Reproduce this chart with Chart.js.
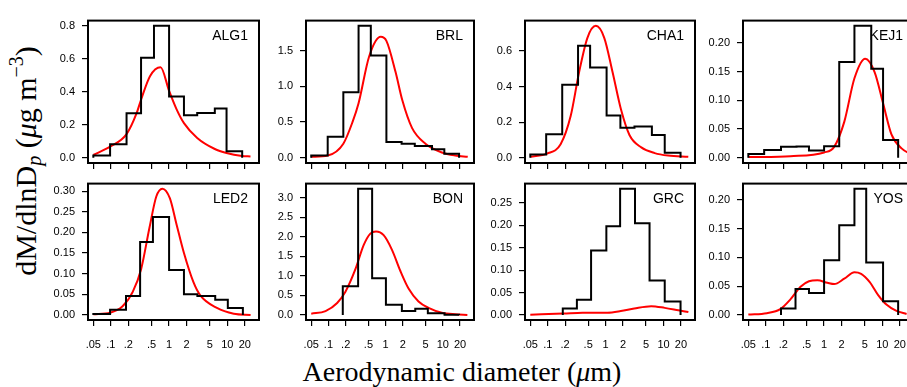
<!DOCTYPE html>
<html>
<head>
<meta charset="utf-8">
<script src="https://cdn.jsdelivr.net/npm/chart.js@4.4.1/dist/chart.umd.min.js"></script>
<style>
html,body{margin:0;padding:0;background:#fff;}
#wrap{position:relative;width:907px;height:387px;overflow:hidden;background:#fff;}
canvas.pc{position:absolute;}
#xtitle{position:absolute;left:462px;top:372px;transform:translate(-50%,-50%);font-family:"Liberation Serif",serif;font-size:28px;line-height:1;white-space:nowrap;color:#000;}
#ytitle{position:absolute;left:25px;top:161px;transform:translate(-50%,-50%) rotate(-90deg);font-family:"Liberation Serif",serif;font-size:30px;line-height:1;white-space:nowrap;color:#000;}
#ytitle sub{font-size:20px;vertical-align:-5px;}
#ytitle sup{font-size:20px;vertical-align:13px;}
</style>
</head>
<body>
<div id="wrap">
<div id="xtitle">Aerodynamic diameter (<i>μ</i>m)</div>
<div id="ytitle">dM/dlnD<sub><i>p</i></sub> (<i>μ</i>g m<sup>−3</sup>)</div>
</div>
<script>
// ---------------- DATA ----------------
const panelNames = ["ALG1","BRL","CHA1","KEJ1","LED2","BON","GRC","YOS"];
const xTickValues = [0.05,0.1,0.2,0.5,1,2,5,10,20];
const xTickLabels = [".05",".1",".2",".5","1","2","5","10","20"];

// ALG1
const alg1Edges = [0.05,0.097,0.186,0.33,0.55,1.0,1.8,3.04,6.1,9.7,18];
const alg1Mass  = [0.013,0.082,0.27,0.606,0.8,0.371,0.257,0.272,0.299,0.04];
const alg1FitD  = [0.05,0.097,0.186,0.277,0.33,0.47,0.714,1.0,1.34,1.8,3.04,6.1,9.7,18,25];
const alg1FitM  = [0.017,0.067,0.143,0.27,0.352,0.495,0.549,0.406,0.295,0.21,0.12,0.053,0.029,0.011,0.0076];
const alg1YTicks = ["0.0","0.2","0.4","0.6","0.8"];

// BRL
const brlEdges = [0.05,0.097,0.182,0.336,0.55,1.03,1.9,3.23,6.46,10.6,19.2];
const brlMass  = [0.03,0.293,0.918,1.85,1.434,0.219,0.197,0.166,0.118,0.057];
const brlFitD  = [0.05,0.0973,0.182,0.264,0.336,0.514,0.82,1.03,1.49,1.95,2.9,4.95,9.63,16.4,27.2];
const brlFitM  = [0.013,0.031,0.197,0.503,0.765,1.421,1.697,1.64,1.202,0.809,0.415,0.197,0.074,0.031,0.013];
const brlYTicks = ["0.0","0.5","1.0","1.5"];

// CHA1
const cha1Edges = [0.05,0.094,0.178,0.334,0.54,1.04,1.8,3.15,6.3,10.5,19.7];
const cha1Mass  = [0.018,0.132,0.41,0.63,0.507,0.238,0.169,0.176,0.128,0.028];
const cha1FitD  = [0.05,0.0976,0.167,0.249,0.348,0.485,0.678,0.947,1.32,1.85,2.58,4.13,7.04,12.0,26.8];
const cha1FitM  = [0.005,0.023,0.076,0.234,0.48,0.674,0.741,0.674,0.48,0.269,0.128,0.058,0.026,0.012,0.005];
const cha1YTicks = ["0.0","0.2","0.4","0.6"];

// KEJ1
const kej1Edges = [0.05,0.0935,0.182,0.336,0.55,1.0,1.82,3.32,6.46,10.3,18.7];
const kej1Mass  = [0.0065,0.0136,0.019,0.0195,0.0125,0.02,0.167,0.23,0.155,0.031];
const kej1FitD  = [0.05,0.264,1.0,1.49,2.22,3.32,5.08,7.37,10.3,14.35,21.4,31.9];
const kej1FitM  = [0.0011,0.0027,0.0092,0.019,0.0625,0.1386,0.1728,0.1495,0.0951,0.0408,0.0163,0.0054];
const kej1YTicks = ["0.00","0.05","0.10","0.15","0.20"];

// LED2
const led2Edges = [0.05,0.097,0.182,0.318,0.528,1.0,1.8,3.06,6.2,10.2,18.5];
const led2Mass  = [0.002,0.0125,0.046,0.177,0.2375,0.109,0.05,0.046,0.037,0.017];
const led2FitD  = [0.05,0.0973,0.159,0.2375,0.331,0.462,0.603,0.767,1.03,1.34,1.8,2.61,3.41,6.63,12.9,25.1];
const led2FitM  = [0.0016,0.0055,0.021,0.056,0.111,0.2125,0.287,0.306,0.283,0.22,0.15,0.08,0.048,0.017,0.003,0.0];
const led2YTicks = ["0.00","0.05","0.10","0.15","0.20","0.25","0.30"];

// BON
const bonEdges = [0.178,0.33,0.58,1.01,1.92,3.29,5.46,10.7,19.2];
const bonMass  = [0.734,3.23,0.94,0.264,0.099,0.157,0.041,0.005];
const bonFitD  = [0.05,0.0889,0.142,0.198,0.296,0.414,0.54,0.678,0.922,1.29,1.8,2.51,3.75,5.61,9.57,16.4,26.8];
const bonFitM  = [0.033,0.099,0.305,0.594,1.17,1.79,2.08,2.135,2.04,1.665,1.13,0.676,0.346,0.181,0.058,0.016,0.0];
const bonYTicks = ["0.0","0.5","1.0","1.5","2.0","2.5","3.0"];

// GRC
const grcEdges = [0.182,0.319,0.561,1.03,1.78,3.22,5.74,10.5,19.7];
const grcMass  = [0.0144,0.034,0.144,0.198,0.282,0.205,0.077,0.030];
const grcFitD  = [0.05,0.186,0.4,1.07,1.83,3.13,6.13,10.5,18.0,26.9];
const grcFitM  = [0.0005,0.003,0.005,0.005,0.0086,0.0144,0.0195,0.0158,0.0105,0.0065];
const grcYTicks = ["0.00","0.05","0.10","0.15","0.20","0.25"];

// YOS
const yosEdges = [0.182,0.323,0.55,1.0,1.82,3.32,5.29,10.3,18.7];
const yosMass  = [0.0112,0.045,0.038,0.095,0.156,0.2196,0.091,0.024];
const yosFitD  = [0.05,0.104,0.177,0.264,0.394,0.55,0.767,1.14,1.49,2.22,3.32,4.33,6.04,8.43,11.75,17.5,26.1];
const yosFitM  = [0.0006,0.003,0.010,0.027,0.049,0.0587,0.0603,0.0559,0.0536,0.063,0.0743,0.0715,0.0575,0.035,0.018,0.007,0.0017];
const yosYTicks = ["0.00","0.05","0.10","0.15","0.20"];

// ---------------- LAYOUT ----------------
const panels = [
  {name:panelNames[0], edges:alg1Edges, mass:alg1Mass, fitD:alg1FitD, fitM:alg1FitM, yTicks:alg1YTicks},
  {name:panelNames[1], edges:brlEdges,  mass:brlMass,  fitD:brlFitD,  fitM:brlFitM,  yTicks:brlYTicks},
  {name:panelNames[2], edges:cha1Edges, mass:cha1Mass, fitD:cha1FitD, fitM:cha1FitM, yTicks:cha1YTicks},
  {name:panelNames[3], edges:kej1Edges, mass:kej1Mass, fitD:kej1FitD, fitM:kej1FitM, yTicks:kej1YTicks},
  {name:panelNames[4], edges:led2Edges, mass:led2Mass, fitD:led2FitD, fitM:led2FitM, yTicks:led2YTicks},
  {name:panelNames[5], edges:bonEdges,  mass:bonMass,  fitD:bonFitD,  fitM:bonFitM,  yTicks:bonYTicks},
  {name:panelNames[6], edges:grcEdges,  mass:grcMass,  fitD:grcFitD,  fitM:grcFitM,  yTicks:grcYTicks},
  {name:panelNames[7], edges:yosEdges,  mass:yosMass,  fitD:yosFitD,  fitM:yosFitM,  yTicks:yosYTicks}
];
const colLeft = [88, 306, 525, 743];
const colWidth = [171, 168, 170, 171];
const rowTop = [13, 176];
const rowHeight = [150, 144];
const PADL = 60, PADT = 6, PADR = 6, XAXH = 45;
const X_MIN = 0.0405, X_MAX = 35;

const boxPlugin = {
  id: 'panelBox',
  afterDatasetsDraw(chart) {
    const {ctx, chartArea: a} = chart;
    ctx.save();
    ctx.strokeStyle = '#000';
    ctx.lineWidth = 2;
    ctx.strokeRect(a.left, a.top, a.right - a.left, a.bottom - a.top);
    ctx.fillStyle = '#000';
    ctx.font = '14px "Liberation Sans", Arial, sans-serif';
    ctx.textAlign = 'right';
    ctx.textBaseline = 'middle';
    ctx.fillText(chart.options.plugins.panelBox.label, a.right - 11, a.top + 16);
    ctx.restore();
  }
};

const wrap = document.getElementById('wrap');
panels.forEach((p, i) => {
  const row = Math.floor(i / 4), col = i % 4;
  const w = colWidth[col] + PADL + PADR;
  const h = rowHeight[row] + PADT + XAXH;
  const cv = document.createElement('canvas');
  cv.className = 'pc';
  cv.width = w; cv.height = h;
  cv.style.width = w + 'px'; cv.style.height = h + 'px';
  cv.style.left = (colLeft[col] - PADL) + 'px';
  cv.style.top = (rowTop[row] - PADT) + 'px';
  wrap.appendChild(cv);

  // histogram outline points (step)
  const hist = [{x: p.edges[0], y: 0}];
  p.mass.forEach((v, k) => hist.push({x: p.edges[k], y: v}));
  hist.push({x: p.edges[p.edges.length - 1], y: 0});
  const fit = p.fitD.map((d, k) => ({x: d, y: p.fitM[k]}));

  const yMaxData = Math.max(...p.mass, ...p.fitM);
  const yVals = p.yTicks.map(parseFloat);

  new Chart(cv, {
    type: 'line',
    data: {
      datasets: [
        {data: hist, borderColor: '#000', borderWidth: 2, stepped: true, pointRadius: 0, fill: false},
        {data: fit, borderColor: '#ff0000', borderWidth: 2, cubicInterpolationMode: 'monotone', pointRadius: 0, fill: false}
      ]
    },
    options: {
      responsive: false,
      animation: false,
      events: [],
      devicePixelRatio: 1,
      layout: {padding: {left: 0, top: PADT, right: PADR, bottom: 0}},
      plugins: {legend: {display: false}, tooltip: {enabled: false}, panelBox: {label: p.name}},
      scales: {
        x: {
          type: 'logarithmic',
          min: X_MIN, max: X_MAX, bounds: 'data',
          afterBuildTicks: ax => { ax.ticks = xTickValues.map(v => ({value: v})); },
          afterFit: s => { s.height = XAXH; },
          border: {display: false},
          grid: {drawOnChartArea: false, drawTicks: true, tickLength: 6, color: '#000', tickColor: '#000', lineWidth: 1.2},
          ticks: {
            display: row === 1,
            autoSkip: false, maxRotation: 0, minRotation: 0, padding: 12,
            color: '#000',
            font: {family: '"Liberation Sans", Arial, sans-serif', size: 11},
            callback: v => { const k = xTickValues.indexOf(v); return k >= 0 ? xTickLabels[k] : ''; }
          }
        },
        y: {
          type: 'linear',
          min: -0.04 * yMaxData, max: 1.04 * yMaxData, bounds: 'data',
          afterBuildTicks: ax => { ax.ticks = yVals.map(v => ({value: v})); },
          afterFit: s => { s.width = PADL; },
          border: {display: false},
          grid: {drawOnChartArea: false, drawTicks: true, tickLength: 6, color: '#000', tickColor: '#000', lineWidth: 1.2},
          ticks: {
            autoSkip: false, padding: 7, color: '#000',
            font: {family: '"Liberation Sans", Arial, sans-serif', size: 11},
            callback: v => { const k = yVals.indexOf(v); return k >= 0 ? p.yTicks[k] : ''; }
          }
        }
      }
    },
    plugins: [boxPlugin]
  });
});
</script>
</body>
</html>
